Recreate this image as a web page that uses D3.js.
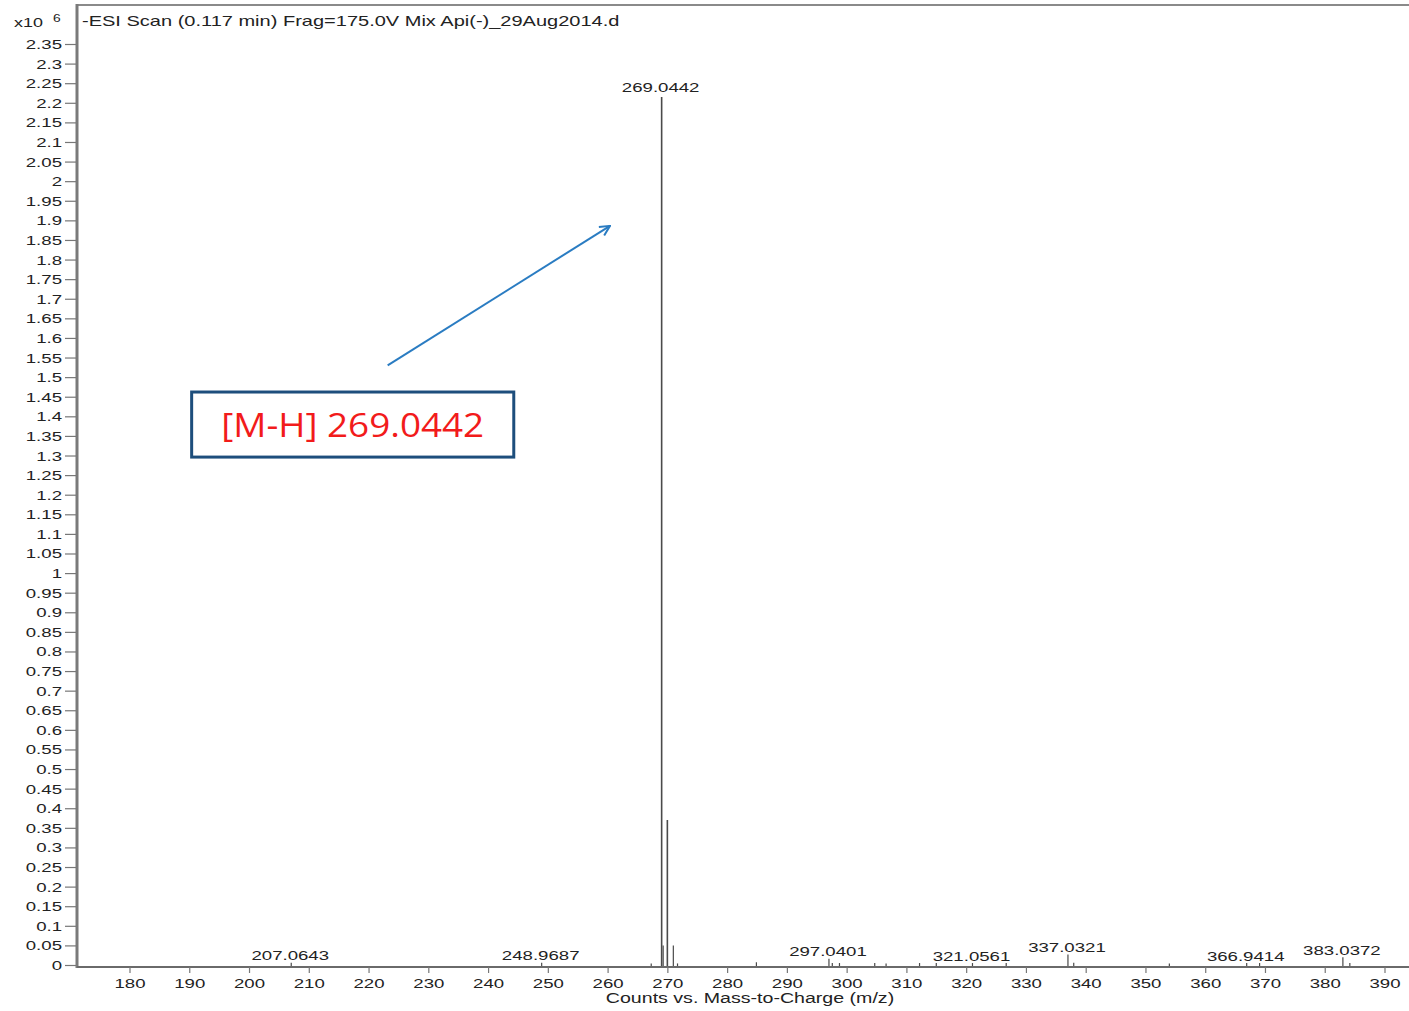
<!DOCTYPE html>
<html>
<head>
<meta charset="utf-8">
<script src="https://cdn.jsdelivr.net/npm/d3@7"></script>
<style>
  html, body { margin: 0; padding: 0; background: #fff; }
  svg { display: block; }
  text { font-family: "Liberation Sans", Arial, sans-serif; fill: #222; }
</style>
</head>
<body>
<svg id="chart" width="1409" height="1011"></svg>
<script>
// ---------- data (m/z, intensity in x10^6 counts) ----------
const peakMz        = [207.0643, 248.9687, 267.3, 269.0442, 269.30, 270.00, 271.00, 271.7, 284.9, 297.0401, 297.6, 298.8, 304.7, 306.6, 312.2, 315.0, 321.0561, 326.7, 337.0321, 338.0, 354.0, 366.9414, 369.1, 383.0372, 384.2];
const peakIntensity = [0.006,    0.006,    0.004, 2.215,    0.05,   0.37,   0.05,   0.004, 0.007, 0.016,    0.005, 0.005, 0.005, 0.004, 0.005, 0.005, 0.005,    0.005, 0.027,    0.006, 0.004, 0.005,    0.005, 0.02,     0.005];
const labelMz       = [207.0643, 248.9687, 269.0442, 297.0401, 321.0561, 337.0321, 366.9414, 383.0372];
const labelText     = ["207.0643", "248.9687", "269.0442", "297.0401", "321.0561", "337.0321", "366.9414", "383.0372"];
const xTicks = [180, 190, 200, 210, 220, 230, 240, 250, 260, 270, 280, 290, 300, 310, 320, 330, 340, 350, 360, 370, 380, 390];
const yTicks = [0, 0.05, 0.1, 0.15, 0.2, 0.25, 0.3, 0.35, 0.4, 0.45, 0.5, 0.55, 0.6, 0.65, 0.7, 0.75, 0.8, 0.85, 0.9, 0.95,
                1, 1.05, 1.1, 1.15, 1.2, 1.25, 1.3, 1.35, 1.4, 1.45, 1.5, 1.55, 1.6, 1.65, 1.7, 1.75, 1.8, 1.85, 1.9, 1.95,
                2, 2.05, 2.1, 2.15, 2.2, 2.25, 2.3, 2.35];
const yTickLabels = yTicks.map(v => String(+v.toFixed(2)));
const titleText = "-ESI Scan (0.117 min) Frag=175.0V Mix Api(-)_29Aug2014.d";
const xTitle = "Counts vs. Mass-to-Charge (m/z)";
// annotation (in data units)
const annotText = "[M-H] 269.0442";
const annotBox = { mz0: 190.4, mz1: 244.3, v0: 1.462, v1: 1.296 };
const annotArrow = { mz0: 223.2, v0: 1.530, mz1: 260.4, v1: 1.886 };

// ---------- layout ----------
const SX = 1.38;            // horizontal stretch of the scanned text
const axisLeftX = 77, axisTopY = 5, axisBottomY = 967, rightX = 1409;
const svg = d3.select("#chart");

const x = d3.scaleLinear().domain([180, 390]).range([129.5, 1384.5]);
const y = d3.scaleLinear().domain([0, 2.35]).range([965, 44]);

function sText(g, px, py, str, anchor, size, sx) {
  return g.append("text")
    .attr("transform", `translate(${px},${py}) scale(${sx || SX},1)`)
    .attr("text-anchor", anchor || "middle")
    .style("font-size", (size || 13.5) + "px")
    .style("fill", "#222")
    .text(str);
}

// frame
svg.append("line").attr("x1", axisLeftX).attr("x2", rightX).attr("y1", axisTopY).attr("y2", axisTopY)
  .attr("stroke", "#8a8a8a").attr("stroke-width", 2);
svg.append("line").attr("x1", axisLeftX).attr("x2", axisLeftX).attr("y1", axisTopY - 1).attr("y2", axisBottomY + 1)
  .attr("stroke", "#7a7a7a").attr("stroke-width", 3);
svg.append("line").attr("x1", axisLeftX).attr("x2", rightX).attr("y1", axisBottomY).attr("y2", axisBottomY)
  .attr("stroke", "#6a6a6a").attr("stroke-width", 2);

// y axis
const gy = svg.append("g").attr("transform", `translate(${axisLeftX - 1},0)`)
  .call(d3.axisLeft(y).tickValues(yTicks).tickSize(11).tickFormat((d, i) => yTickLabels[i]));
gy.select(".domain").remove();
gy.selectAll(".tick line").attr("stroke", "#777").attr("stroke-width", 1.2);
gy.selectAll(".tick text")
  .attr("x", null).attr("dy", null)
  .attr("transform", `translate(-14,4.5) scale(${SX},1)`)
  .style("font-size", "13.5px").style("fill", "#222")
  .style("font-family", "Liberation Sans, Arial, sans-serif");

// x axis
const gx = svg.append("g").attr("transform", `translate(0,${axisBottomY})`)
  .call(d3.axisBottom(x).tickValues(xTicks).tickSize(6).tickFormat(d3.format("d")));
gx.select(".domain").remove();
gx.selectAll(".tick line").attr("stroke", "#777").attr("stroke-width", 1.2);
gx.selectAll(".tick text")
  .attr("y", null).attr("dy", null)
  .attr("transform", `translate(0,21) scale(${SX},1)`)
  .style("font-size", "13.5px").style("fill", "#222")
  .style("font-family", "Liberation Sans, Arial, sans-serif");

// titles
sText(svg, 82, 26, titleText, "start", 14, 1.43);
sText(svg, 750, 1003, xTitle, "middle", 14, 1.4);
sText(svg, 14, 27, "x10", "start", 13);
sText(svg, 53, 22, "6", "start", 10);

// peaks
const peaks = peakMz.map((m, i) => ({ m, v: peakIntensity[i] }));
svg.append("g").selectAll("line").data(peaks).join("line")
  .attr("x1", d => x(d.m)).attr("x2", d => x(d.m))
  .attr("y1", y(0) + 1).attr("y2", d => y(d.v))
  .attr("stroke", "#4a4a4a")
  .attr("stroke-width", d => d.v > 0.3 ? 1.6 : 1.2);

// peak labels
const labels = labelMz.map((m, i) => {
  const idx = peakMz.indexOf(m);
  return { m, v: peakIntensity[idx], t: labelText[i] };
});
const gl = svg.append("g");
labels.forEach(d => sText(gl, x(d.m) - 1, y(d.v) - (d.v > 1 ? 5 : 2.5), d.t, "middle", 13.5));

// annotation box
const ga = svg.append("g");
ga.append("rect")
  .attr("x", x(annotBox.mz0)).attr("y", y(annotBox.v0))
  .attr("width", x(annotBox.mz1) - x(annotBox.mz0))
  .attr("height", y(annotBox.v1) - y(annotBox.v0))
  .attr("fill", "#fff").attr("stroke", "#1d4e7c").attr("stroke-width", 3);
ga.append("text")
  .attr("transform", `translate(${(x(annotBox.mz0) + x(annotBox.mz1)) / 2},${y(annotBox.v1) - 20}) scale(1.1,1)`)
  .attr("text-anchor", "middle")
  .style("font-family", "'Open Sans', 'Noto Sans', sans-serif")
  .style("font-size", "33.5px")
  .style("fill", "#f21b1b")
  .text(annotText);

// arrow
svg.append("defs").append("marker")
  .attr("id", "arrowhead").attr("viewBox", "0 0 12 12")
  .attr("refX", 11).attr("refY", 6)
  .attr("markerWidth", 12).attr("markerHeight", 12)
  .attr("markerUnits", "userSpaceOnUse")
  .attr("orient", "auto")
  .append("path").attr("d", "M1,1 L11,6 L1,11")
  .attr("fill", "none").attr("stroke", "#2a7cc2").attr("stroke-width", 2);
svg.append("line")
  .attr("x1", x(annotArrow.mz0)).attr("y1", y(annotArrow.v0))
  .attr("x2", x(annotArrow.mz1)).attr("y2", y(annotArrow.v1))
  .attr("stroke", "#2a7cc2").attr("stroke-width", 2)
  .attr("marker-end", "url(#arrowhead)");
</script>
</body>
</html>
